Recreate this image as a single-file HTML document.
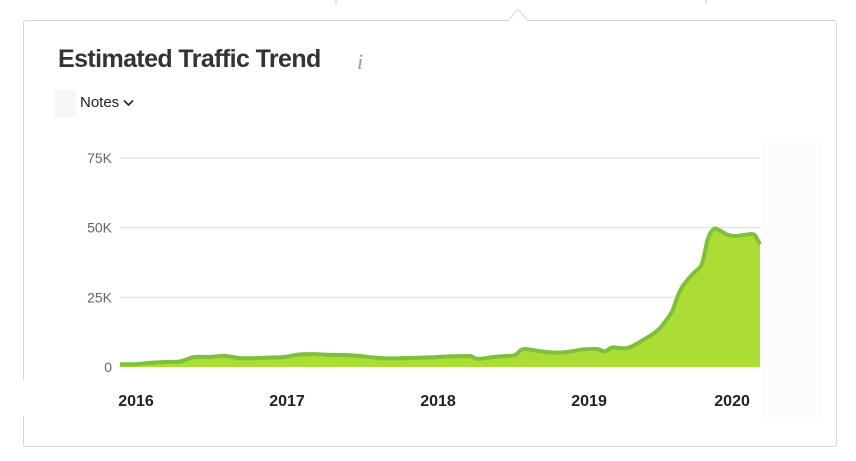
<!DOCTYPE html>
<html><head><meta charset="utf-8">
<style>
html,body{margin:0;padding:0;background:#fff;}
body{width:856px;height:461px;position:relative;overflow:hidden;font-family:"Liberation Sans",sans-serif;}
#card{position:absolute;left:23px;top:20px;width:814px;height:427px;border:1px solid #d6d6d6;border-radius:3px;box-sizing:border-box;}
#title{position:absolute;left:58px;top:45px;font-size:25px;font-weight:bold;color:#333;letter-spacing:-0.6px;white-space:nowrap;}
#info{position:absolute;left:357px;top:49px;font-family:"Liberation Serif",serif;font-style:italic;font-size:22px;color:#999;}
#notes{position:absolute;left:54px;top:90px;width:100px;height:26px;font-size:15px;color:#222;white-space:nowrap;}
#notes .sq{position:absolute;left:0;top:0;width:22px;height:27px;background:#f7f7f7;}
#notes span.t{position:absolute;left:26px;top:4px;}
svg{position:absolute;left:0;top:0;}
</style></head><body>
<div id="card"></div>
<svg width="856" height="461" style="z-index:1">
<polyline points="508,21 518,9 528,21" fill="#fff" stroke="#d6d6d6" stroke-width="1"/>
<line x1="509" y1="21" x2="527" y2="21" stroke="#fff" stroke-width="2"/>
<line x1="336" y1="0" x2="336" y2="4" stroke="#ccc"/>
<line x1="706" y1="0" x2="706" y2="4" stroke="#ccc"/>
</svg>
<div id="title">Estimated Traffic Trend</div>
<div id="info">i</div>
<div id="notes"><div class="sq"></div><span class="t">Notes <svg width="11" height="8" style="position:relative;left:0;top:0;vertical-align:middle" viewBox="0 0 11 8"><polyline points="1,1.5 5.5,6 10,1.5" fill="none" stroke="#222" stroke-width="1.6"/></svg></span></div>
<svg id="chart" width="856" height="461" style="z-index:2"></svg>
<script>
const yTicks=[0,25,50,75];
const yTickLabels=["0","25K","50K","75K"];
const xTicks=[2016,2017,2018,2019,2020];
const xTickLabels=["2016","2017","2018","2019","2020"];
const dates=[2015.894,2015.993,2016.092,2016.19,2016.289,2016.388,2016.487,2016.586,2016.684,2016.783,2016.882,2016.981,2017.08,2017.178,2017.277,2017.376,2017.475,2017.574,2017.672,2017.771,2017.87,2017.969,2018.068,2018.166,2018.216,2018.265,2018.364,2018.463,2018.512,2018.562,2018.66,2018.759,2018.858,2018.957,2019.056,2019.105,2019.154,2019.253,2019.352,2019.451,2019.5,2019.55,2019.599,2019.648,2019.698,2019.747,2019.787,2019.826,2019.866,2019.915,2019.974,2020.043,2020.093,2020.132];
const traffic=[1,1,1.5,1.8,2,3.6,3.6,4,3.2,3.2,3.4,3.6,4.5,4.6,4.4,4.3,4,3.4,3.1,3.2,3.3,3.5,3.8,3.9,3.9,2.9,3.6,4,4.3,6.4,5.8,5.2,5.4,6.3,6.4,5.6,7,6.8,9.5,13,16,20,27,31,34,37,46,49.5,49,47.5,47,47.5,47.5,44];
const X0=2015.894,X1=2020.132,PX0=120,PX1=760;
function xs(t){return PX0+(t-X0)/(X1-X0)*(PX1-PX0);}
function ys(v){return 367-v*(209/75);}
const svg=document.getElementById('chart');
const NS='http://www.w3.org/2000/svg';
function mk(tag,attrs){const e=document.createElementNS(NS,tag);for(const k in attrs)e.setAttribute(k,attrs[k]);svg.appendChild(e);return e;}
yTicks.forEach((v,i)=>{
  if(v>0){const g=mk('line',{x1:PX0,x2:PX1,y1:ys(v),y2:ys(v),stroke:'#e6e6e6','stroke-width':1.5});
  
  }
  const t=mk('text',{x:112,y:ys(v)+5,'text-anchor':'end','font-size':14,fill:'#666','font-family':'Liberation Sans, sans-serif'});
  t.textContent=yTickLabels[i];
  
  
});
let pts=dates.map((d,i)=>[xs(d),ys(traffic[i])]);
function smooth(p){let s='M'+p[0][0]+','+p[0][1];for(let i=0;i<p.length-1;i++){const p0=p[i-1]||p[i],p1=p[i],p2=p[i+1],p3=p[i+2]||p2;
 const c1=[p1[0]+(p2[0]-p0[0])/6,p1[1]+(p2[1]-p0[1])/6],c2=[p2[0]-(p3[0]-p1[0])/6,p2[1]-(p3[1]-p1[1])/6];
 s+=' C'+c1[0]+','+c1[1]+' '+c2[0]+','+c2[1]+' '+p2[0]+','+p2[1];}return s;}
const line=smooth(pts);
const area=mk('path',{d:line+' L'+xs(X1)+','+ys(0)+' L'+xs(X0)+','+ys(0)+' Z',fill:'#acdd34'});


const ln=mk('path',{d:line,fill:'none',stroke:'#7dc13b','stroke-width':4,'stroke-linejoin':'round'});


xTicks.forEach((y,i)=>{
  const t=mk('text',{x:xs(y)-(i==4?8:0),y:406,'text-anchor':'middle','font-size':16,'font-weight':'bold',fill:'#222','font-family':'Liberation Sans, sans-serif'});
  t.textContent=xTickLabels[i];
  
  
});
const c1=mk('rect',{x:0,y:380,width:110,height:36,fill:'#fff'});


const c2=mk('rect',{x:762,y:138,width:60,height:284,fill:'#fcfcfc'});


</script>
</body></html>
